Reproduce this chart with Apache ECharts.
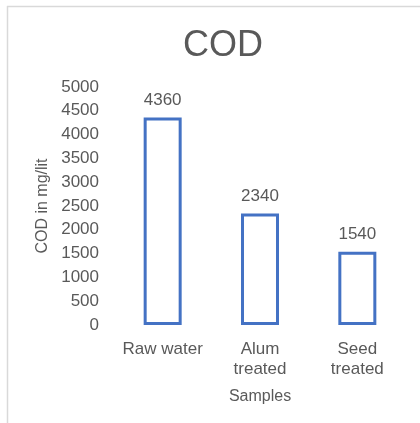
<!DOCTYPE html>
<html>
<head>
<meta charset="utf-8">
<script src="https://cdn.jsdelivr.net/npm/echarts@6/dist/echarts.min.js"></script>
<style>
  html, body { margin: 0; padding: 0; background: #ffffff; }
  #chart { width: 420px; height: 423px; }
</style>
</head>
<body>
<div id="chart"></div>
<script>
// COD of the water samples, mg/lit
const categories = ['Raw water', 'Alum\ntreated', 'Seed\ntreated'];
const codValues = [4360, 2340, 1540];
const yTicks = [0, 500, 1000, 1500, 2000, 2500, 3000, 3500, 4000, 4500, 5000];

const textColor = '#595959';
const font = 'Liberation Sans, Arial, sans-serif';

const chart = echarts.init(document.getElementById('chart'), null, { renderer: 'canvas' });

chart.setOption({
  backgroundColor: '#ffffff',
  animation: false,
  title: {
    text: 'COD',
    left: 218,
    top: 23,
    textAlign: 'center',
    textStyle: { fontFamily: font, fontSize: 36, fontWeight: 'normal', color: textColor }
  },
  graphic: [
    // thin frame along the top and left edges of the chart area
    { type: 'line', shape: { x1: 7, y1: 6.5, x2: 420, y2: 6.5 }, style: { stroke: '#d9d9d9', lineWidth: 1.5 } },
    { type: 'line', shape: { x1: 7.5, y1: 6, x2: 7.5, y2: 423 }, style: { stroke: '#d9d9d9', lineWidth: 1.5 } }
  ],
  grid: { left: 114, right: 14, top: 87, bottom: 98 },
  xAxis: {
    type: 'category',
    data: categories,
    name: 'Samples',
    nameLocation: 'middle',
    nameGap: 64,
    nameTextStyle: { fontFamily: font, fontSize: 16, color: textColor },
    axisLine: { show: false },
    axisTick: { show: false },
    axisLabel: { interval: 0, fontFamily: font, fontSize: 17, color: textColor, margin: 14, lineHeight: 20 }
  },
  yAxis: {
    type: 'value',
    min: yTicks[0],
    max: yTicks[yTicks.length - 1],
    interval: yTicks[1] - yTicks[0],
    name: 'COD in mg/lit',
    nameLocation: 'middle',
    nameGap: 62,
    nameTextStyle: { fontFamily: font, fontSize: 16, color: textColor },
    axisLine: { show: false },
    axisTick: { show: false },
    splitLine: { show: false },
    axisLabel: { fontFamily: font, fontSize: 17, color: textColor, margin: 15, formatter: (v) => String(v) }
  },
  series: [{
    type: 'bar',
    data: codValues,
    barWidth: 38,
    itemStyle: { color: '#ffffff', borderColor: '#4472c4', borderWidth: 3 },
    label: {
      show: true,
      position: 'top',
      distance: 9,
      fontFamily: font,
      fontSize: 17,
      color: textColor
    }
  }]
});
</script>
</body>
</html>
